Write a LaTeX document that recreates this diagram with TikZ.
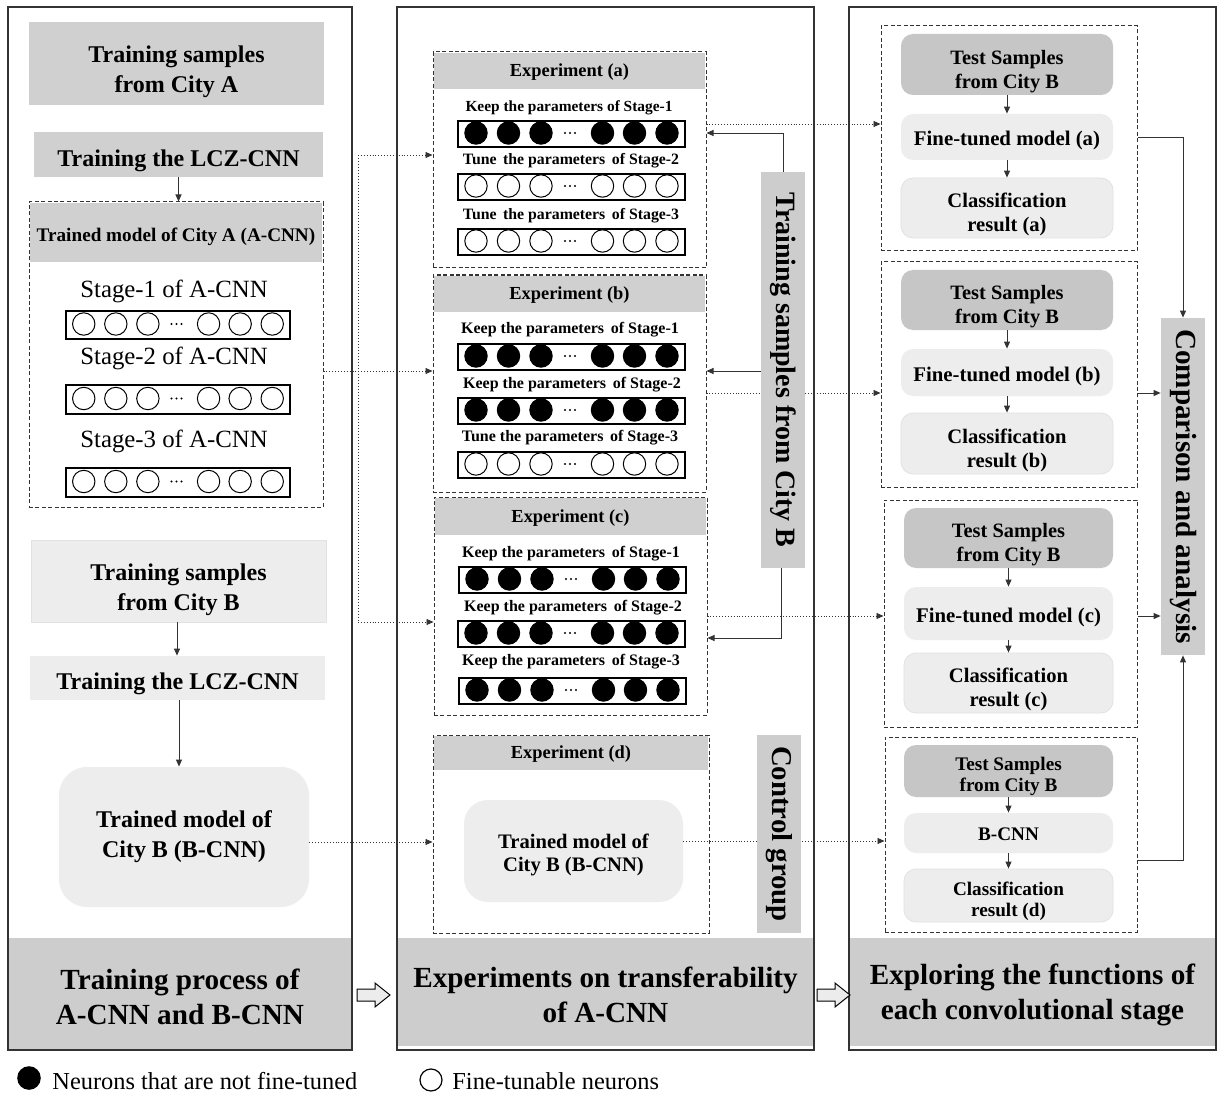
\documentclass[tikz,border=0pt]{standalone}
\usepackage{fontspec}
\setmainfont{Liberation Serif}
\usetikzlibrary{arrows.meta}
\definecolor{hdr}{HTML}{D0D0D0}
\definecolor{ttl}{HTML}{CDCDCD}
\definecolor{dark}{HTML}{C6C6C6}
\definecolor{lite}{HTML}{EDEDED}
\definecolor{liteb}{HTML}{E2E2E2}
\tikzset{tshift/.store in=\tshv, tshift=0}
\newcommand\bx[7]{%
  \node[#1, minimum width={(#4-#2)*0.5pt}, minimum height={(#5-#3)*0.5pt}] (#6) at ({(#2+#4)/2},{(#3+#5)/2}) {};
  \node[tshift=6, #1, draw=none, fill=none, yshift={-\tshv*0.5pt}] (#6-t) at (#6.center) {#7};}
\newcommand\nrow[6]{%
  \node[draw=black, line width=0.8pt, minimum width={#6*0.5pt}, minimum height={#4*0.5pt}, anchor=north west] (#1) at (#2,#3) {};
  \foreach \oo in {19,51.5,84,145.5,177.5,210}{\draw[fill=#5, line width=0.5pt] ({#2+\oo/227*#6},{#3+#4/2}) circle[radius=5.6pt];}
  \foreach \dd in {-5,0,5}{\fill ({#2+113/227*#6+\dd},{#3+#4/2}) circle[radius=0.55pt];}
}
\newcommand\fs[2]{\fontsize{#1}{#2}\selectfont}
\begin{document}
\begin{tikzpicture}[x=0.5pt,y=-0.5pt,
  every node/.style={font=\bfseries, align=center, inner sep=0pt},
  dbox/.style={draw=black!80, dashed, dash pattern=on 2pt off 1.2pt, line width=0.5pt},
  arr/.style={-{Triangle[length=3.5pt,width=3pt]}, line width=0.45pt, draw=black!80},
  dotl/.style={densely dotted, line width=0.5pt, draw=black!80},
  rb/.style={rounded corners=6pt}]
\useasboundingbox (0,0) rectangle (1217,1097);
\fill[white] (0,0) rectangle (1217,1097);

% ---- bottom titles
\tikzset{tt/.style={fill=ttl, font=\bfseries\fs{14.6}{17.5}, tshift=3}}
\bx{tt}{8}{938}{352}{1049}{t1}{Training process of\\A-CNN and B-CNN}
\bx{tt}{397}{938}{814}{1046}{t2}{Experiments on transferability\\of A-CNN}
\bx{tt}{849}{938}{1216}{1046}{t3}{Exploring the functions of\\each convolutional stage}
% ---- column frames
\bx{draw=black!80, line width=0.6pt}{8}{7}{352}{1050}{c1}{}
\bx{draw=black!80, line width=0.6pt}{397}{7}{814}{1050}{c2}{}
\bx{draw=black!80, line width=0.6pt}{849}{7}{1216}{1050}{c3}{}
% hollow arrows
\draw[fill=gray!15, line width=0.5pt] (357,989) -- (375,989) -- (375,983) -- (390,995) -- (375,1007) -- (375,1001) -- (357,1001) -- cycle;
\draw[fill=gray!15, line width=0.5pt] (817,989) -- (835,989) -- (835,983) -- (850,995) -- (835,1007) -- (835,1001) -- (817,1001) -- cycle;

% ---- column 1
\bx{fill=hdr, font=\bfseries\fs{12}{15}, tshift=8}{29}{22}{324}{105}{sa}{Training samples\\from City A}
\bx{fill=hdr, font=\bfseries\fs{12}{14}, tshift=6}{34}{132}{323}{177}{tla}{Training the LCZ-CNN}
\bx{dbox}{29}{202}{323}{507}{acnn}{}
\bx{fill=hdr, font=\bfseries\fs{9.6}{11}, tshift=4}{30}{203}{322}{262}{acnnh}{Trained model of City A (A-CNN)}
\draw[arr] (tla.south) -- (tla.south |- acnn.north);
\node[font=\normalfont\fs{12.4}{14}] (s1) at (174,291) {Stage-1 of A-CNN};
\node[font=\normalfont\fs{12.4}{14}] (s2) at (174,358) {Stage-2 of A-CNN};
\node[font=\normalfont\fs{12.4}{14}] (s3) at (174,441) {Stage-3 of A-CNN};
\nrow{a1}{65}{310}{28}{white}{224}
\nrow{a2}{65}{384}{29}{white}{224}
\nrow{a3}{65}{467}{29}{white}{224}

\bx{fill=lite, draw=liteb, font=\bfseries\fs{12}{15}, tshift=9}{31}{540}{326}{622}{sb}{Training samples\\from City B}
\bx{fill=lite, font=\bfseries\fs{12}{14}, tshift=6}{30}{656}{325}{700}{tlb}{Training the LCZ-CNN}
\bx{fill=lite, rounded corners=14pt, font=\bfseries\fs{12}{15}, tshift=0}{59}{767}{309}{907}{bcnn}{Trained model of\\City B (B-CNN)}
\draw[arr] (sb.south -| 177,0) -- (tlb.north -| 177,0);
\draw[arr] (tlb.south -| 179,0) -- (bcnn.north -| 179,0);

% ---- column 2
\tikzset{eh/.style={fill=hdr, font=\bfseries\fs{9.2}{10}, tshift=1.5}}
\bx{dbox}{433}{52}{706}{268}{ea}{}
\bx{eh}{434}{53}{705}{89}{eah}{Experiment (a)}
\bx{dbox}{433}{275}{706}{492}{eb}{}
\bx{eh}{434}{276}{705}{312}{ebh}{Experiment (b)}
\bx{dbox}{434}{497}{707}{715}{ec}{}
\bx{eh}{435}{498}{706}{535}{ech}{Experiment (c)}
\bx{dbox}{433}{735}{709}{933}{ed}{}
\bx{eh}{434}{736}{708}{770}{edh}{Experiment (d)}
\bx{fill=lite, rounded corners=12pt, font=\bfseries\fs{10.3}{11.5}, tshift=3.5}{464}{800}{683}{902}{edm}{Trained model of\\City B (B-CNN)}

\node[font=\bfseries\fs{7.7}{9}] (la1) at (569,108) {Keep the parameters of Stage-1};
\node[font=\bfseries\fs{7.9}{9}] (la2) at (571,161) {Tune\, the parameters\, of Stage-2};
\node[font=\bfseries\fs{7.9}{9}] (la3) at (571,216) {Tune\, the parameters\, of Stage-3};
\nrow{ra1}{457}{120}{26}{black}{227}
\nrow{ra2}{457}{173}{26}{white}{227}
\nrow{ra3}{457}{228}{26}{white}{227}

\node[font=\bfseries\fs{8}{9}] (lb1) at (570,330) {Keep the parameters\, of Stage-1};
\node[font=\bfseries\fs{8}{9}] (lb2) at (572,385) {Keep the parameters\, of Stage-2};
\node[font=\bfseries\fs{8}{9}] (lb3) at (570,438) {Tune the parameters\, of Stage-3};
\nrow{rb1}{457}{343}{26}{black}{227}
\nrow{rb2}{457}{397}{26}{black}{227}
\nrow{rb3}{457}{451}{26}{white}{227}

\node[font=\bfseries\fs{8}{9}] (lc1) at (571,554) {Keep the parameters\, of Stage-1};
\node[font=\bfseries\fs{8}{9}] (lc2) at (573,608) {Keep the parameters\, of Stage-2};
\node[font=\bfseries\fs{8}{9}] (lc3) at (571,662) {Keep the parameters\, of Stage-3};
\nrow{rc1}{458}{566}{26}{black}{227}
\nrow{rc2}{457}{620}{26}{black}{227}
\nrow{rc3}{458}{677}{26}{black}{227}

% ---- column 3
\tikzset{q1/.style={fill=dark, rb, font=\bfseries\fs{10.2}{12}, tshift=7},
         q2/.style={fill=lite, rb, font=\bfseries\fs{10.4}{12}, tshift=3.5},
         q3/.style={fill=lite, draw=liteb, rb, font=\bfseries\fs{10.3}{12}, tshift=6.5}}
\bx{dbox}{881}{26}{1137}{251}{qa}{}
\bx{q1}{901}{34}{1113}{95}{qa1}{Test Samples\\from City B}
\bx{q2}{901}{114}{1113}{160}{qa2}{Fine-tuned model (a)}
\bx{q3}{901}{178}{1113}{238}{qa3}{Classification\\result (a)}
\bx{dbox}{881}{262}{1137}{487}{qb}{}
\bx{q1}{901}{270}{1113}{330}{qb1}{Test Samples\\from City B}
\bx{q2}{901}{349}{1113}{396}{qb2}{Fine-tuned model (b)}
\bx{q3}{901}{413}{1113}{474}{qb3}{Classification\\result (b)}
\bx{dbox}{884}{500}{1137}{727}{qc}{}
\bx{q1}{904}{508}{1113}{568}{qc1}{Test Samples\\from City B}
\bx{q2}{904}{587}{1113}{640}{qc2}{Fine-tuned model (c)}
\bx{q3}{904}{653}{1113}{713}{qc3}{Classification\\result (c)}
\bx{dbox}{885}{737}{1137}{932}{qd}{}
\bx{q1, font=\bfseries\fs{9.6}{10.5}, tshift=5}{904}{745}{1113}{797}{qd1}{Test Samples\\from City B}
\bx{q2, font=\bfseries\fs{9.6}{10.5}, tshift=1.5}{904}{813}{1113}{853}{qd2}{B-CNN}
\bx{q3, font=\bfseries\fs{9.6}{10.5}, tshift=6}{904}{869}{1113}{922}{qd3}{Classification\\result (d)}
\foreach \q in {qa,qb,qc,qd}{
  \draw[arr] (\q1.south) -- (\q2.north);
  \draw[arr] (\q2.south) -- (\q3.north);
}

% ---- dotted connectors col1 -> col2
\coordinate (tr1) at (358,155);
\coordinate (tr2) at (358,622);
\draw[dotl] (tr1) -- (tr2);
\draw[dotl, arr, densely dotted] (tr1) -- (ea.west |- tr1);
\draw[dotl, arr, densely dotted] (tr2) -- (ec.west |- tr2);
\draw[dotl, arr, densely dotted] (acnn.east |- {(0,371)}) -- (eb.west |- {(0,371)});
\draw[dotl, arr, densely dotted] (bcnn.east |- {(0,842)}) -- (ed.west |- {(0,842)});
% ---- dotted connectors col2 -> col3
\draw[dotl, arr, densely dotted] (ea.east |- {(0,124)}) -- (qa.west |- {(0,124)});
\draw[dotl, arr, densely dotted] (eb.east |- {(0,393)}) -- (qb.west |- {(0,393)});
\draw[dotl, arr, densely dotted] (ec.east |- {(0,616)}) -- (qc.west |- {(0,616)});
\draw[dotl, arr, densely dotted] (edm.east |- {(0,841)}) -- (qd.west |- {(0,841)});

% ---- vertical boxes
\bx{fill=ttl, tshift=0}{761}{172}{805}{568}{tsb}{\rotatebox[origin=c]{-90}{\fs{14}{16}Training samples from City B}}
\bx{fill=ttl, tshift=0}{757}{735}{801}{933}{cg}{\rotatebox[origin=c]{-90}{\fs{14.4}{16}Control group}}
\bx{fill=ttl, tshift=0}{1161}{318}{1205}{655}{cmp}{\rotatebox[origin=c]{-90}{\fs{14.6}{16}Comparison and analysis}}

\draw[arr] (tsb.north -| 783,0) |- (ea.east |- {(0,133)});
\draw[arr] (tsb.west |- {(0,371)}) -- (eb.east |- {(0,371)});
\draw[arr] (tsb.south -| 781,0) |- (ec.east |- {(0,638)});

\draw[arr] (qa.east |- qa2) -| (cmp.north);
\draw[arr] (qb.east |- {(0,393)}) -- (cmp.west |- {(0,393)});
\draw[arr] (qc.east |- {(0,616)}) -- (cmp.west |- {(0,616)});
\draw[arr] (qd.east |- {(0,860)}) -| (cmp.south);

% ---- legend
\fill (29,1078) circle[radius=5.9pt];
\node[font=\normalfont\fs{12.2}{14}, anchor=west] (lg1) at (52,1081) {Neurons that are not fine-tuned};
\draw[line width=0.6pt] (431,1080) circle[radius=5.5pt];
\node[font=\normalfont\fs{12.2}{14}, anchor=west] (lg2) at (452,1081) {Fine-tunable neurons};
\end{tikzpicture}
\end{document}
